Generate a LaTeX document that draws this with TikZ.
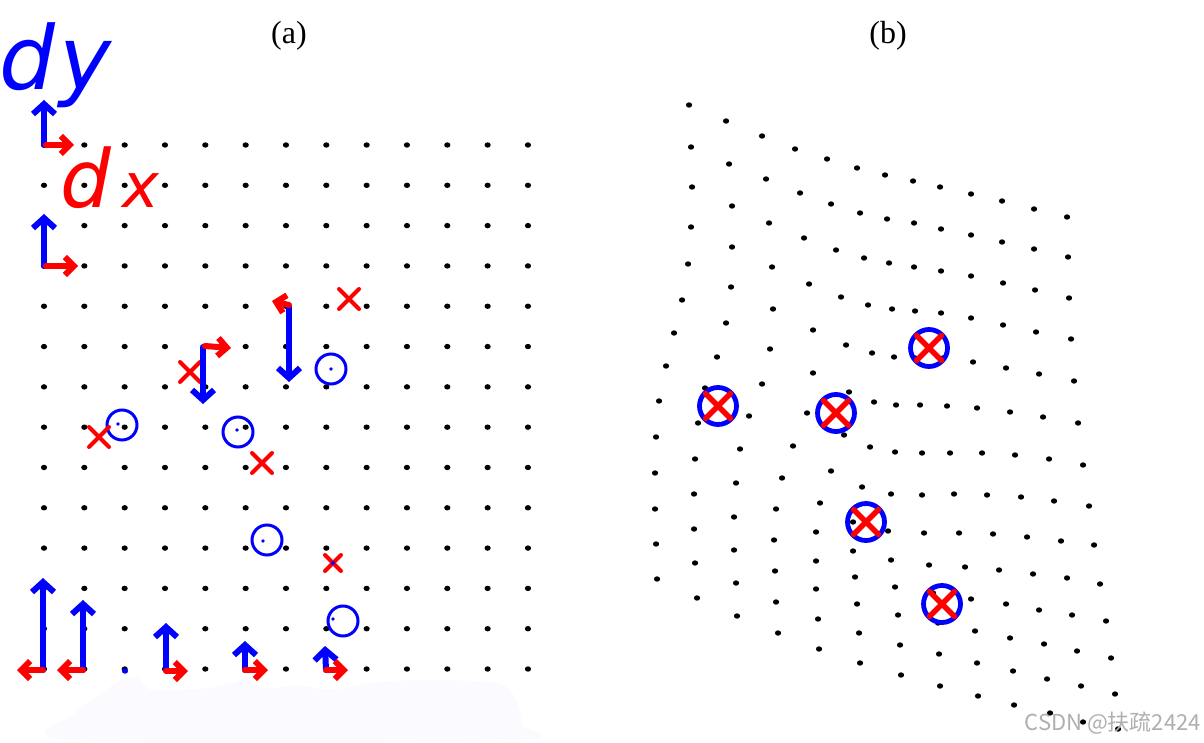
\documentclass[tikz,border=0pt]{standalone}
\usepackage{fontspec}
\setmainfont{Liberation Serif}
\newfontfamily\handfont{DejaVu Sans}
\newfontfamily\cjkfont{Noto Sans CJK SC}
\usetikzlibrary{arrows.meta}
\definecolor{pblue}{RGB}{0,0,255}
\definecolor{pred}{RGB}{255,0,0}
\definecolor{smudge}{RGB}{251,251,255}
\definecolor{wmgray}{RGB}{175,175,175}
\tikzset{
  gdot/.style={fill=black},
  barrow/.style={draw=pblue, line width=6pt, line cap=round, line join=round, -{Straight Barb[length=10pt,width=22pt]}},
  rarrow/.style={draw=pred, line width=6pt, line cap=round, line join=round, -{Straight Barb[length=9pt,width=18pt]}},
  bcirc/.style={draw=pblue, line width=3pt},
  xmark/.style={draw=pred, line width=4pt, line cap=round},
  bigcirc/.style={draw=pblue, line width=4.8pt},
  bigx/.style={draw=pred, line width=5.5pt, line cap=round},
  xm/.pic={\draw[xmark] (-10,-10)--(10,10) (-10,10)--(10,-10);},
  smallxm/.pic={\draw[xmark] (-8,-8)--(8,8) (-8,8)--(8,-8);},
  bigxm/.pic={\draw[bigcirc] (0,0) circle[radius=18.5];
              \draw[bigx] (-12.5,-12.5)--(12.5,12.5) (-12.5,12.5)--(12.5,-12.5);},
  labelfont/.style={font=\fontsize{32}{38}\selectfont},
}
\begin{document}
\begin{tikzpicture}[x=1pt,y=-1pt]
\useasboundingbox (0,0) rectangle (1204,743);
\fill[white] (0,0) rectangle (1204,743);

% ---------- panel (a): regular grid ----------
\foreach \i in {0,...,12}{
  \foreach \j in {0,...,13}{
    \fill[gdot] ({44+40.33*\i},{145+40.31*\j}) ellipse[x radius=3.1, y radius=2.7];
  }
}
\fill[pblue] (125,671) ellipse[x radius=3.1, y radius=2.7];

% circles with their small centre dots
\foreach \cx/\cy/\dx/\dy in {331/369/331/369, 122/425/118/424, 238/432/237/430, 267/540/263/541, 343/621/333/619}{
  \draw[bcirc] (\cx,\cy) circle[radius=15];
  \fill[pblue] (\dx,\dy) circle[radius=1.8];
}
% red crosses
\pic at (349,299) {xm};
\pic at (190,372) {xm};
\pic at (99,437) {xm};
\pic at (262,463) {xm};
\pic at (333,563) {smallxm};
\fill[pblue] (333,563) circle[radius=2];

% arrows
\draw[barrow] (44,145) -- (44,100);
\draw[rarrow] (46,145) -- (74,145);
\draw[barrow] (44,266) -- (44,214);
\draw[rarrow] (46,266) -- (78,266);
\draw[barrow] (203,347) -- (203,404);
\draw[rarrow] (205,346) -- (231,348);
\draw[barrow] (289,307) -- (289,382);
\draw[rarrow] (289,305) -- (272,301);

\draw[barrow] (43,670) -- (43,578);
\draw[rarrow] (43,670) -- (17,670);
\draw[barrow] (83,670) -- (83,600);
\draw[rarrow] (83,670) -- (57,670);
\draw[barrow] (166,670) -- (166,623);
\draw[rarrow] (166,671) -- (188,671);
\draw[barrow] (245,670) -- (245,641);
\draw[rarrow] (245,670) -- (268,670);
\draw[barrow] (326,670) -- (325,646);
\draw[rarrow] (326,670) -- (348,670);

% eraser smudge under the bottom row
\fill[smudge] plot[smooth cycle, tension=0.5] coordinates {(72,740) (75,713) (100,695) (121,680) (138,678) (152,690) (200,689) (235,683) (248,677) (262,688) (300,686) (330,690) (380,682) (440,680) (500,684) (516,700) (522,725) (512,740)};

% handwritten labels
\node[text=pblue, font=\handfont\itshape\fontsize{88}{100}\selectfont, anchor=base west, inner sep=0pt] (dylabel) at (-1,90) {d\kern4pt y};
\node[text=pred, font=\handfont\itshape\fontsize{80}{90}\selectfont, anchor=base west, inner sep=0pt] (dxlabel) at (60,208) {d\kern12pt{\fontsize{62}{70}\selectfont x}};

% ---------- panel (b): warped grid ----------
\foreach \p/\q in {
689/105, 726/121, 762/136, 795/149, 827/159, 857/168, 885/175, 913/181, 940/187, 971/194, 1002/201, 1034/209, 1067/217,
691/147, 729/164, 766/179, 800/193, 831/204, 860/213, 887/219, 914/223, 941/229, 971/235, 1002/242, 1034/249, 1068/257,
692/187, 732/206, 769/223, 804/238, 836/250, 864/258, 889/263, 914/267, 941/271, 971/276, 1003/283, 1035/290, 1069/298,
691/227, 732/247, 772/267, 809/284, 841/297, 868/305, 892/309, 915/311, 941/313, 971/318, 1003/325, 1036/332, 1071/339,
688/264, 731/287, 773/309, 813/330, 846/345, 872/353, 894/357, 915/358, 943/358, 973/362, 1006/368, 1039/374, 1074/381,
682/300, 726/323, 770/349, 813/373, 849/392, 874/402, 896/405, 920/405, 947/406, 977/408, 1010/412, 1043/417, 1078/423,
674/333, 717/357, 762/384, 807/413, 844/435, 870/447, 895/452, 922/453, 950/453, 982/453, 1015/455, 1049/459, 1083/465,
666/366, 705/388, 749/416, 793/446, 831/471, 862/487, 891/494, 922/495, 954/494, 987/495, 1021/497, 1054/501, 1089/506,
659/401, 698/423, 740/449, 782/478, 820/503, 853/522, 888/531, 924/533, 959/533, 993/534, 1027/537, 1061/541, 1094/545,
656/437, 695/459, 736/483, 776/509, 816/532, 853/551, 891/560, 929/565, 965/567, 999/570, 1033/574, 1067/578, 1100/584,
655/473, 694/494, 734/517, 774/540, 816/561, 855/577, 895/587, 933/593, 971/599, 1006/604, 1039/610, 1072/615, 1106/621,
655/509, 694/529, 734/550, 775/571, 816/589, 857/604, 898/615, 938/623, 975/631, 1010/638, 1044/644, 1077/651, 1111/658,
656/544, 695/563, 736/583, 776/602, 818/619, 859/633, 900/645, 939/654, 977/663, 1013/671, 1047/679, 1081/686, 1115/694,
657/579, 697/598, 737/616, 778/633, 819/649, 860/663, 901/675, 940/686, 978/696, 1014/705, 1050/713, 1083/722, 1118/729}{
  \fill[gdot] (\p,\q) ellipse[x radius=3.1, y radius=2.7];
}
\pic at (718,406) {bigxm};
\pic at (836,413) {bigxm};
\pic at (929,348) {bigxm};
\pic at (866,522) {bigxm};
\pic at (942,604) {bigxm};

% ---------- titles and watermark ----------
\node[labelfont] (la) at (289,36) {(a)};
\node[labelfont] (lb) at (888,36) {(b)};
\node[text=wmgray, font=\cjkfont\fontsize{22}{26}\selectfont, anchor=east, inner sep=0pt] (wm) at (1201,723) {CSDN @扶疏2424};
\end{tikzpicture}
\end{document}
